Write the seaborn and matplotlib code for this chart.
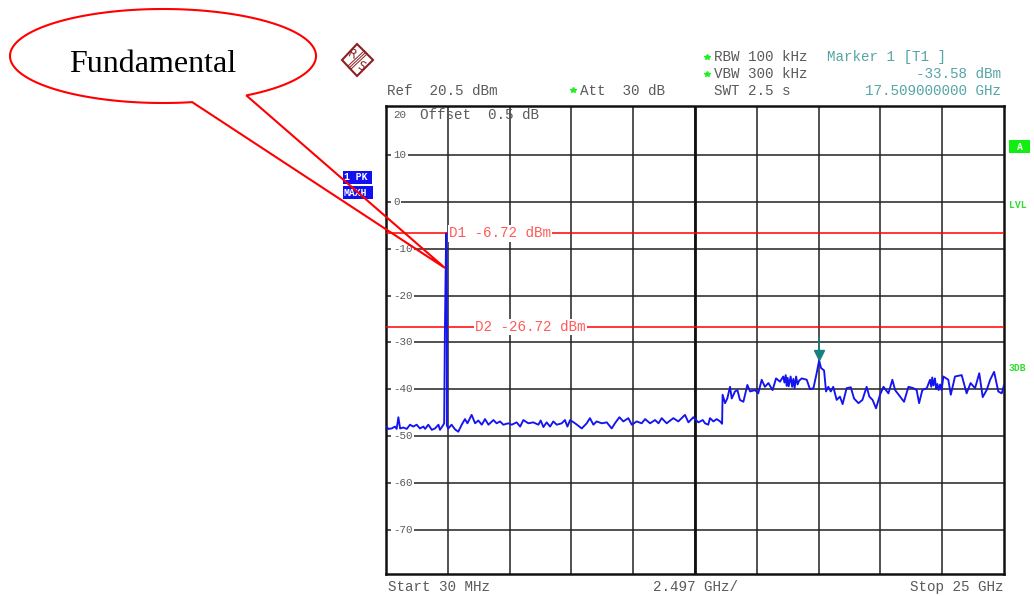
import numpy as np
import matplotlib
matplotlib.use('Agg')
import matplotlib.pyplot as plt
from matplotlib.patches import Polygon, Rectangle
import pandas as pd
import seaborn as sns

# Trace (GHz, dBm)
freq_low = [0.06, 0.12, 0.26, 0.39, 0.46, 0.53, 0.60, 0.73, 0.87, 1.00, 1.13, 1.27, 1.40, 1.54, 1.61, 1.74, 1.88, 2.01, 2.15, 2.21, 2.35, 2.38,
            2.41, 2.46, 2.47, 2.49, 2.49,
            2.55, 2.68, 2.82, 2.95, 3.09, 3.22, 3.32, 3.49, 3.63, 3.76, 3.90, 4.03, 4.17, 4.37, 4.50, 4.64, 4.77, 4.97, 5.11, 5.31, 5.45, 5.58,
            5.78, 5.98, 6.19, 6.28, 6.39, 6.52, 6.66, 6.79, 6.93, 7.13, 7.26, 7.36, 7.47, 7.67, 7.94, 8.14, 8.27, 8.41, 8.54, 8.75, 8.95, 9.15,
            9.28, 9.46, 9.62, 9.82, 9.96, 10.16, 10.36, 10.50, 10.70, 10.90, 11.04, 11.17, 11.37, 11.64, 11.84, 12.11, 12.25, 12.45, 12.65]
level_low = [-48.0, -48.5, -48.4, -48.0, -48.5, -46.0, -48.4, -48.2, -48.5, -47.6, -48.0, -47.6, -48.4, -48.0, -48.5, -47.6, -48.7, -48.4, -47.6, -48.7, -47.6, -47.3,
             -27.5, -6.72, -6.72, -27.0, -47.8,
             -48.4, -47.6, -48.6, -49.1, -47.6, -46.4, -47.3, -45.5, -47.3, -46.7, -47.6, -46.4, -47.6, -46.6, -47.3, -46.9, -47.6, -47.3, -47.6, -47.1, -48.0, -46.6,
             -47.3, -47.1, -47.6, -46.7, -48.1, -47.1, -48.0, -46.9, -47.6, -47.3, -46.6, -48.0, -46.6, -47.3, -48.4, -47.3, -46.2, -47.6, -46.9, -47.3, -47.1, -48.4,
             -47.3, -46.0, -46.9, -46.2, -47.6, -46.9, -47.3, -46.4, -47.3, -46.6, -47.3, -46.2, -47.3, -46.2, -46.9, -45.5, -47.1, -46.0, -47.1]
freq_high = [12.72, 12.83, 12.92, 13.05, 13.12, 13.26, 13.39, 13.53, 13.61, 13.63, 13.73, 13.82, 13.93, 14.00, 14.13, 14.23, 14.33, 14.47, 14.63, 14.74,
             14.94, 15.07, 15.21, 15.34, 15.48, 15.65, 15.79, 15.95, 16.08, 16.13, 16.18, 16.22, 16.26, 16.30, 16.38, 16.44, 16.49, 16.54, 16.60, 16.66, 16.72, 16.83, 17.03, 17.16, 17.30, 17.43,
             17.53, 17.61, 17.73, 17.81, 17.90, 18.00, 18.10, 18.24, 18.37, 18.48, 18.64, 18.81, 18.94, 19.12, 19.28, 19.45, 19.56, 19.69, 19.83, 19.99,
             20.13, 20.33, 20.49, 20.60, 20.80, 20.96, 21.14, 21.34, 21.47, 21.57, 21.70, 21.88, 22.01, 22.06, 22.10, 22.15, 22.21, 22.26, 22.31, 22.36, 22.42, 22.48, 22.55, 22.75, 22.85,
             23.02, 23.29, 23.49, 23.65, 23.83, 24.00, 24.14, 24.30, 24.44, 24.60, 24.77, 24.91, 25.00]
level_high = [-46.9, -46.6, -47.3, -47.6, -46.2, -46.9, -46.4, -46.9, -47.4, -41.2, -43.0, -42.0, -39.5, -42.0, -40.5, -40.2, -42.3, -42.7, -39.1, -40.5,
              -40.2, -40.9, -38.0, -39.5, -38.7, -40.2, -37.7, -38.4, -37.3, -38.6, -37.0, -39.3, -37.6, -39.4, -37.3, -39.5, -37.8, -39.8, -37.3, -39.0, -38.2, -37.7, -38.0, -40.0, -39.8, -36.6,
              -33.9, -35.5, -36.0, -40.5, -39.5, -40.5, -39.5, -42.3, -41.6, -43.2, -39.8, -39.6, -42.0, -43.0, -42.3, -39.5, -41.6, -42.3, -44.1, -41.2,
              -39.5, -40.9, -38.0, -40.2, -41.6, -42.7, -39.5, -39.8, -40.2, -43.0, -40.2, -39.8, -38.0, -39.5, -37.5, -39.2, -37.7, -40.0, -38.9, -40.2, -39.0, -40.2, -37.3, -38.0, -41.2,
              -37.3, -37.0, -40.9, -38.7, -39.8, -36.6, -41.7, -40.2, -38.0, -36.3, -40.5, -40.9, -39.1]

freq_ticks = [2.527, 5.024, 7.521, 10.018, 12.515, 15.012, 17.509, 20.006, 22.503]
level_ticks = [10, 0, -10, -20, -30, -40, -50, -60, -70]
level_labels = ['10', '0', '-10', '-20', '-30', '-40', '-50', '-60', '-70']
display_lines = [-6.72, -26.72]
display_names = ['D1 -6.72 dBm', 'D2 -26.72 dBm']
display_label_freq = [2.58, 3.63]
marker_freq = 17.509
marker_level = -33.58

GREY = '#5a5a5a'
TEAL = '#55a5a5'
RED = '#ff0000'
MONO = 'Liberation Mono'

sns.set_style('white')
fig = plt.figure(figsize=(10.34, 5.96), dpi=100)

# frame of the analyser screen, in figure pixels 386-1004 / 106-574
ax = fig.add_axes([386 / 1034, 1 - 574 / 596, 618 / 1034, 468 / 596])
ax.set_xlim(0.03, 25)
ax.set_ylim(-79.5, 20.5)
ax.set_xticks(freq_ticks)
ax.set_yticks(level_ticks)
ax.set_xticklabels([])
ax.set_yticklabels([])
ax.tick_params(length=0)
ax.grid(True, color='#222222', linewidth=1.1)
ax.set_axisbelow(True)
for s in ax.spines.values():
    s.set_color('#111111')
    s.set_linewidth(1.8)
ax.axvline(12.515, color='#111111', linewidth=2, zorder=1)

df = pd.DataFrame({'freq': freq_low + freq_high, 'level': level_low + level_high})
sns.lineplot(data=df, x='freq', y='level', sort=False, estimator=None, color='#1414f0', linewidth=1.35, ax=ax, zorder=4)
ax.set_xlabel('')
ax.set_ylabel('')

for y, lab in zip(level_ticks, level_labels):
    ax.annotate(lab, (0, y), xycoords=('axes fraction', 'data'), xytext=(5, 0), textcoords='offset points',
                family=MONO, fontsize=7.8, color=GREY, va='center', ha='left', zorder=3,
                bbox=dict(facecolor='white', edgecolor='none', pad=1.2))

for y, name, fx in zip(display_lines, display_names, display_label_freq):
    ax.axhline(y, color=RED, linewidth=1.1, zorder=3)
    ax.text(fx, y, name, family=MONO, fontsize=10.3, color='#ff5a5a', va='center', ha='left', zorder=5,
            bbox=dict(facecolor='white', edgecolor='none', pad=0.8))

# marker 1
ax.plot([marker_freq], [marker_level + 0.8], marker='v', color='#168080', markersize=6.5, zorder=6)
ax.plot([marker_freq, marker_freq], [marker_level + 4.5, marker_level + 1.5], color='#168080', linewidth=1.2, zorder=6)

# overlay in figure pixels for all the screen text and the callout
ov = fig.add_axes([0, 0, 1, 1], facecolor='none')
ov.set_xlim(0, 1034)
ov.set_ylim(596, 0)
ov.axis('off')


def mono(x, y, s, color=GREY, ha='left', size=10.3, **kw):
    ov.text(x, y, s, family=MONO, fontsize=size, color=color, ha=ha, va='center', **kw)


mono(387, 91, 'Ref  20.5 dBm')
mono(580, 91, 'Att  30 dB')
mono(714, 57, 'RBW 100 kHz')
mono(714, 74, 'VBW 300 kHz')
mono(714, 91, 'SWT 2.5 s')
mono(827, 57, 'Marker 1 [T1 ]', TEAL)
mono(1001, 74, '-33.58 dBm', TEAL, ha='right')
mono(1001, 91, '17.509000000 GHz', TEAL, ha='right')
mono(393, 115, '20', size=7.8)
mono(420, 115, 'Offset  0.5 dB')
mono(388, 587, 'Start 30 MHz')
mono(653, 587, '2.497 GHz/')
mono(1003, 587, 'Stop 25 GHz', ha='right')

for x, y in [(707, 57), (707, 74), (573, 90)]:
    ov.plot([x], [y], marker='*', color='#22ee22', markersize=4, linestyle='none')

# blue trace boxes left of the screen
ov.add_patch(Rectangle((343, 171), 29, 13, facecolor='#1010f0', edgecolor='none', zorder=2))
ov.add_patch(Rectangle((343, 186), 30, 13, facecolor='#1010f0', edgecolor='none', zorder=2))
mono(344, 177.5, '1 PK', 'white', size=7, weight='bold', zorder=3)
mono(344, 192.5, 'MAXH', 'white', size=7, weight='bold', zorder=3)

# green side labels
ov.add_patch(Rectangle((1009, 140), 21, 13, facecolor='#11ee11', edgecolor='none'))
mono(1019.5, 146.5, 'A', 'white', ha='center', size=7, weight='bold')
mono(1009, 205, 'LVL', '#33dd33', size=7, weight='bold')
mono(1009, 368, '3DB', '#33dd33', size=7, weight='bold')

# R&S logo
logo_red = '#8c2020'
ov.add_patch(Polygon([(357, 44), (373, 60), (357, 76), (342, 60)], closed=True, facecolor='white', edgecolor=logo_red, linewidth=1.5))
for off in [-1.5, 0, 1.5]:
    ov.plot([349 + off, 366 + off], [68 + off, 52 + off], color=logo_red, linewidth=0.7)
ov.text(352.5, 54.5, 'R', fontsize=8.5, color=logo_red, ha='center', va='center', rotation=-25)
ov.text(361.5, 66.5, 'S', fontsize=8.5, color=logo_red, ha='center', va='center', rotation=-25)

# Callout: ellipse opened where the tail leaves it, tail runs to the peak
t = np.radians(np.linspace(79, 417, 200))
ex = 163 + 153 * np.cos(t)
ey = 56 + 47 * np.sin(t)
ov.add_patch(Polygon(np.column_stack([ex, ey]), closed=True, facecolor='white', edgecolor='none', zorder=7))
outline = np.vstack([np.column_stack([ex, ey]), [[445, 268]]])
ov.add_patch(Polygon(outline, closed=True, fill=False, edgecolor=RED, linewidth=1.5, zorder=8, joinstyle='miter'))
ov.text(153, 64, 'Fundamental', family='Liberation Serif', fontsize=23, color='black', ha='center', va='center', zorder=9)

fig.savefig('out.png', dpi=100)
